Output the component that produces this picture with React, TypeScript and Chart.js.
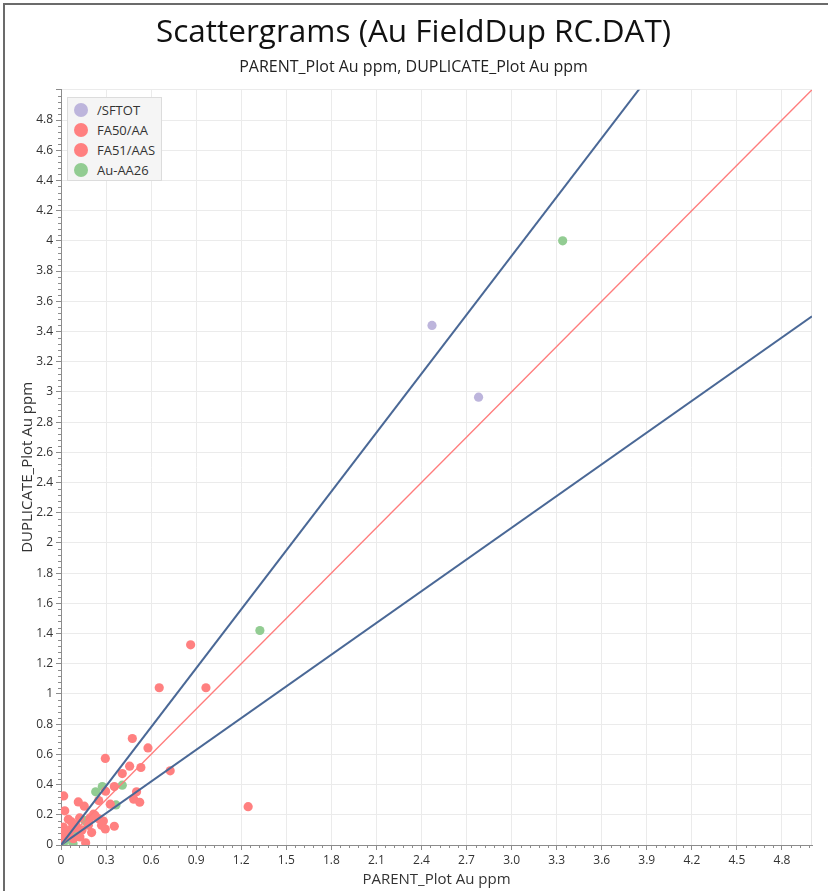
import React, { useEffect, useRef } from 'react';
import { Chart, registerables } from 'chart.js';

Chart.register(...registerables);

const TITLE = 'Scattergrams (Au FieldDup RC.DAT)';
const SUBTITLE = 'PARENT_Plot Au ppm, DUPLICATE_Plot Au ppm';
const X_TITLE = 'PARENT_Plot Au ppm';
const Y_TITLE = 'DUPLICATE_Plot Au ppm';

const X_MIN = 0;
const X_MAX = 5;
const X_STEP = 0.3;
const X_MINOR_COUNT = 5;
const Y_MIN = 0;
const Y_MAX = 5;
const Y_STEP = 0.2;
const Y_MINOR_COUNT = 5;

// series: /SFTOT
const sftotX = [2.47, 2.78];
const sftotY = [3.44, 2.965];

// series: FA50/AA
const fa50X = [0.863, 0.654, 0.965, 0.475, 0.295, 0.579, 0.457, 0.532, 0.727, 0.408, 1.246, 0.355, 0.503, 0.297, 0.251, 0.328, 0.484, 0.524];
const fa50Y = [1.325, 1.041, 1.041, 0.705, 0.573, 0.643, 0.522, 0.513, 0.491, 0.473, 0.254, 0.387, 0.352, 0.356, 0.294, 0.27, 0.303, 0.283];

// series: FA51/AAS
const fa51X = [0.018, 0.115, 0.155, 0.025, 0.217, 0.193, 0.049, 0.124, 0.282, 0.015, 0.071, 0.093, 0.295, 0.355, 0.204, 0.126, 0.164, 0.049, 0.0, 0.082, 0.182, 0.248, 0.226, 0.06, 0.1, 0.14, 0.03, 0.27];
const fa51Y = [0.325, 0.285, 0.257, 0.226, 0.204, 0.179, 0.17, 0.179, 0.159, 0.119, 0.153, 0.113, 0.106, 0.124, 0.082, 0.053, 0.015, 0.064, 0.04, 0.042, 0.131, 0.175, 0.197, 0.1, 0.13, 0.1, 0.08, 0.13];

// series: Au-AA26
const auX = [3.34, 1.324, 0.408, 0.275, 0.231, 0.366, 0.16, 0.02, 0.05, 0.08, 0.1];
const auY = [4.0, 1.42, 0.396, 0.387, 0.352, 0.265, 0.161, 0.02, 0.04, 0.01, 0.08];

const SERIES_LABELS = ['/SFTOT', 'FA50/AA', 'FA51/AAS', 'Au-AA26'];
const SERIES_X = [sftotX, fa50X, fa51X, auX];
const SERIES_Y = [sftotY, fa50Y, fa51Y, auY];
const SERIES_COLORS = ['#bdb5dc', '#ff8080', '#ff8080', '#92cc92'];

// reference lines y = slope * x
const LINE_SLOPES = [1.3, 1.0, 0.7];
const LINE_COLORS = ['#4a6896', '#ff7c7c', '#4a6896'];
const LINE_WIDTHS = [2, 1.3, 2];

const FONT = "'Open Sans', 'Noto Sans', sans-serif";

const minorTicksPlugin = {
  id: 'minorTicks',
  beforeDatasetsDraw(chart: any) {
    const { ctx, chartArea } = chart;
    ctx.save();
    ctx.strokeStyle = '#e6e6e6';
    ctx.lineWidth = 1;
    ctx.beginPath();
    ctx.moveTo(Math.round(chartArea.right) - 0.5, chartArea.top);
    ctx.lineTo(Math.round(chartArea.right) - 0.5, chartArea.bottom);
    ctx.stroke();
    ctx.restore();
  },
  afterDraw(chart: any) {
    const { ctx, chartArea, scales } = chart;
    const x = scales.x;
    const y = scales.y;
    ctx.save();
    ctx.strokeStyle = '#8c8c8c';
    ctx.lineWidth = 1;
    ctx.beginPath();
    const yMinor = Y_STEP / Y_MINOR_COUNT;
    const ny = Math.round((Y_MAX - Y_MIN) / yMinor);
    for (let i = 0; i <= ny; i++) {
      if (i % Y_MINOR_COUNT === 0) continue;
      const p = Math.round(y.getPixelForValue(Y_MIN + i * yMinor)) + 0.5;
      ctx.moveTo(chartArea.left - 3, p);
      ctx.lineTo(chartArea.left, p);
    }
    const xMinor = X_STEP / X_MINOR_COUNT;
    const nx = Math.floor((X_MAX - X_MIN) / xMinor + 1e-6);
    for (let i = 0; i <= nx; i++) {
      if (i % X_MINOR_COUNT === 0) continue;
      const p = Math.round(x.getPixelForValue(X_MIN + i * xMinor)) + 0.5;
      ctx.moveTo(p, chartArea.bottom);
      ctx.lineTo(p, chartArea.bottom + 3);
    }
    ctx.stroke();
    ctx.restore();
  },
};

export default function App() {
  const canvasRef = useRef<HTMLCanvasElement | null>(null);

  useEffect(() => {
    if (!canvasRef.current) return;
    Chart.defaults.font.family = FONT;

    const lineSets = LINE_SLOPES.map((s, i) => ({
      type: 'line' as const,
      label: 'ref' + i,
      data: [
        { x: X_MIN, y: X_MIN * s },
        { x: X_MAX, y: X_MAX * s },
      ],
      showLine: true,
      borderColor: LINE_COLORS[i],
      borderWidth: LINE_WIDTHS[i],
      pointRadius: 0,
      fill: false,
      order: 0,
    }));

    const pointSets = SERIES_LABELS.map((label, i) => ({
      type: 'scatter' as const,
      label,
      data: SERIES_X[i].map((v, j) => ({ x: v, y: SERIES_Y[i][j] })),
      backgroundColor: SERIES_COLORS[i],
      borderWidth: 0,
      pointRadius: 4.6,
      pointHoverRadius: 4.6,
      order: 1,
    }));

    const chart = new Chart(canvasRef.current, {
      type: 'scatter',
      data: { datasets: [...lineSets, ...pointSets] as any },
      plugins: [minorTicksPlugin],
      options: {
        responsive: false,
        animation: false,
        events: [],
        layout: { padding: { left: 15, right: 16, top: 0, bottom: 0 } },
        plugins: {
          legend: { display: false },
          tooltip: { enabled: false },
          title: {
            display: true,
            text: TITLE,
            color: '#111',
            font: { size: 31.5, weight: 'normal', family: FONT },
            padding: { top: 14, bottom: 0 },
          },
          subtitle: {
            display: true,
            text: SUBTITLE,
            color: '#222',
            font: { size: 16, weight: 'normal', family: FONT },
            padding: { top: 6, bottom: 12.8 },
          },
        },
        scales: {
          x: {
            type: 'linear',
            min: X_MIN,
            max: X_MAX,
            afterFit(scale: any) {
              scale.height = 46;
            },
            ticks: {
              stepSize: X_STEP,
              includeBounds: false,
              autoSkip: false,
              maxRotation: 0,
              color: '#333',
              padding: 3,
              font: { size: 12, family: FONT },
            },
            grid: {
              color: '#ebebeb',
              tickColor: '#8c8c8c',
              tickLength: 5,
            },
            border: { color: '#8c8c8c', width: 1 },
            title: {
              display: true,
              text: X_TITLE,
              color: '#333',
              font: { size: 15, family: FONT },
              padding: { top: 4, bottom: 2 },
            },
          },
          y: {
            type: 'linear',
            min: Y_MIN,
            max: Y_MAX,
            afterFit(scale: any) {
              scale.width = 46;
            },
            ticks: {
              stepSize: Y_STEP,
              includeBounds: false,
              autoSkip: false,
              color: '#333',
              padding: 3,
              font: { size: 12, family: FONT },
              callback: (v: any) => (Math.abs(Number(v) - Y_MAX) < 1e-9 ? '' : String(Number(Number(v).toFixed(2)))),
            },
            grid: {
              color: '#ebebeb',
              tickColor: '#8c8c8c',
              tickLength: 5,
            },
            border: { color: '#8c8c8c', width: 1 },
            title: {
              display: true,
              text: Y_TITLE,
              color: '#333',
              font: { size: 15, family: FONT },
              padding: { top: 4, bottom: 4 },
            },
          },
        },
      } as any,
    });
    return () => chart.destroy();
  }, []);

  return (
    <div style={{ position: 'fixed', left: 0, top: 0, width: 828, height: 891, overflow: 'hidden', background: '#fff' }}>
      <div
        style={{
          position: 'absolute',
          left: 3,
          top: 3,
          width: 840,
          height: 900,
          border: '2px solid #6b6b6b',
          boxSizing: 'border-box',
        }}
      />
      <canvas ref={canvasRef} width={828} height={891} style={{ position: 'absolute', left: 0, top: 0, width: 828, height: 891 }} />
      <div
        style={{
          position: 'absolute',
          left: 67,
          top: 97,
          width: 95,
          height: 84,
          background: '#f5f5f5',
          border: '1px solid #dcdcdc',
          boxSizing: 'border-box',
          paddingTop: 2,
          fontFamily: FONT,
          fontSize: 13,
          color: '#333',
        }}
      >
        {SERIES_LABELS.map((label, i) => (
          <div key={label} style={{ display: 'flex', alignItems: 'center', height: 20 }}>
            <span
              style={{
                display: 'inline-block',
                width: 14,
                height: 14,
                borderRadius: '50%',
                background: SERIES_COLORS[i],
                marginLeft: 6,
                marginRight: 9,
              }}
            />
            <span style={{ lineHeight: '20px' }}>{label}</span>
          </div>
        ))}
      </div>
    </div>
  );
}
